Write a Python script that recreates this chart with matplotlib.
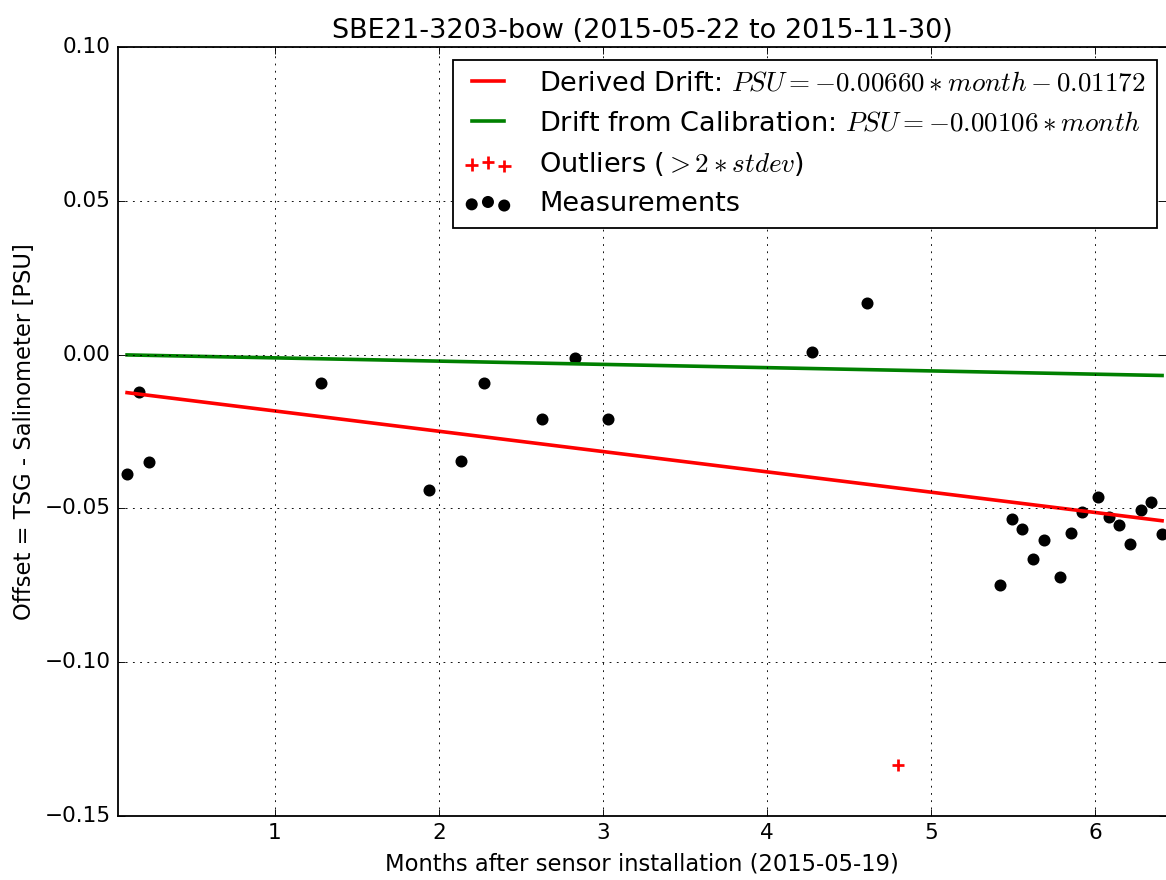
import matplotlib
matplotlib.use('Agg')
from matplotlib import pyplot as plt
import numpy as np

plt.style.use('classic')

# months after installation, offset TSG - salinometer [PSU]
months = [0.098, 0.171, 0.232, 1.280, 1.939, 2.134, 2.274, 2.628, 2.829, 3.030,
          4.274, 4.610, 5.421, 5.494, 5.555, 5.622, 5.689, 5.787, 5.854, 5.921,
          6.018, 6.085, 6.146, 6.213, 6.280, 6.341, 6.409]
offsets = [-0.0388, -0.0122, -0.0349, -0.0092, -0.0440, -0.0346, -0.0092, -0.0209,
           -0.0011, -0.0209, 0.0009, 0.0168, -0.0749, -0.0535, -0.0567, -0.0664,
           -0.0603, -0.0723, -0.0580, -0.0512, -0.0463, -0.0528, -0.0554, -0.0616,
           -0.0505, -0.0479, -0.0583]
outlier_months = [4.799]
outlier_offsets = [-0.1334]

drift_slope = -0.00660
drift_intercept = -0.01172
calib_slope = -0.00106

dpi = 130
fig = plt.figure(figsize=(1166 / dpi, 880 / dpi), dpi=dpi, facecolor='white')
ax = fig.add_axes([118 / 1166, 1 - 816 / 880, 1 - 118 / 1166, (816 - 47) / 880])

xs = np.array([min(months), max(months)])
ax.plot(xs, drift_slope * xs + drift_intercept, color='red', lw=2,
        label=r'Derived Drift: $PSU = -0.00660 * month - 0.01172$')
ax.plot(xs, calib_slope * xs, color='green', lw=2,
        label=r'Drift from Calibration: $PSU = -0.00106 * month$')
ax.scatter(outlier_months, outlier_offsets, marker='+', color='red', s=50, lw=1.5,
           label=r'Outliers ($>2*stdev$)')
ax.scatter(months, offsets, color='black', s=32, label='Measurements')

ax.set_xlim(0.0427, 6.433)
ax.set_ylim(-0.15, 0.10)
ax.set_xticks([1, 2, 3, 4, 5, 6])
ax.set_yticks([-0.15, -0.10, -0.05, 0.00, 0.05, 0.10])
ax.tick_params(labelsize=12)
ax.spines['right'].set_visible(False)
ax.grid(True)

ax.set_title('SBE21-3203-bow (2015-05-22 to 2015-11-30)', fontsize=15)
ax.set_xlabel('Months after sensor installation (2015-05-19)', fontsize=12.5)
ax.set_ylabel('Offset = TSG - Salinometer [PSU]', fontsize=12.5)

ax.legend(loc='upper right', bbox_to_anchor=(1157 / 1166, 1 - 60 / 880),
          bbox_transform=fig.transFigure, borderaxespad=0, fontsize=15,
          handlelength=1.8, handletextpad=1.0)

fig.savefig('out.png', dpi=dpi, facecolor='white')
